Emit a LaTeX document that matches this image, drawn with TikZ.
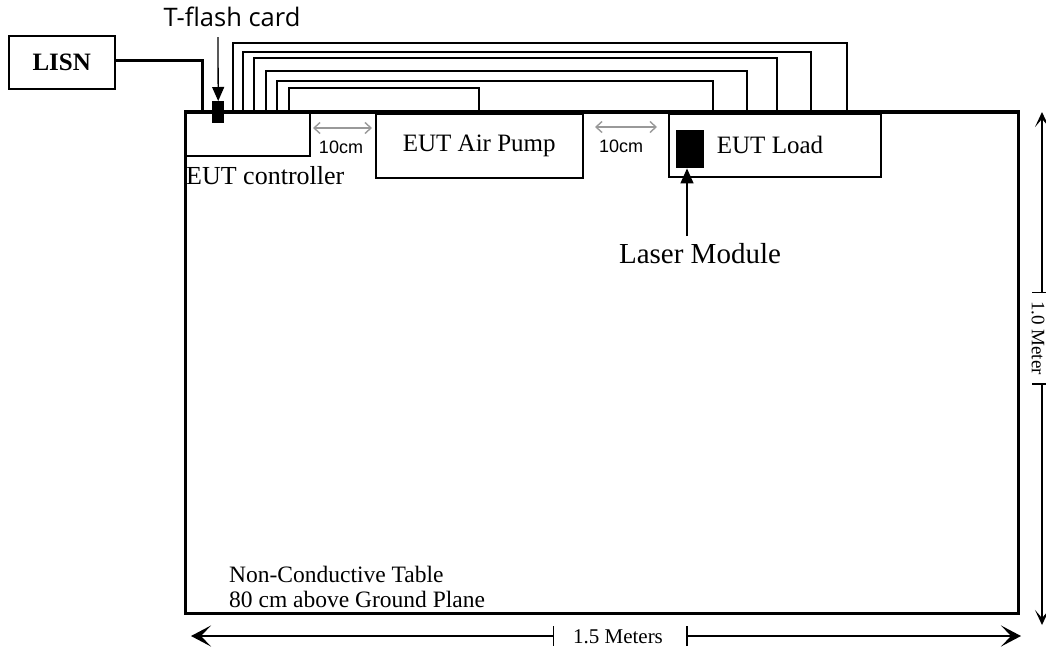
\documentclass[tikz,border=0pt]{standalone}
\usepackage{fontspec}
\setmainfont{Liberation Serif}
\newfontfamily\tffont{Open Sans}
\newfontfamily\arfont{Liberation Sans}
\usetikzlibrary{arrows.meta,calc}
\begin{document}
\begin{tikzpicture}[x=1pt,y=-1pt,
  box/.style={draw,line width=1.5pt,inner sep=0pt,anchor=north west},
  blk/.style={fill=black,draw=none,inner sep=0pt,anchor=north west},
  wire/.style={line width=1.7pt},
  thick wire/.style={line width=3pt},
  lbl/.style={inner sep=0pt,font=\fontsize{25}{30}\selectfont},
  gaplbl/.style={inner sep=0pt,font=\arfont\fontsize{18}{22}\selectfont},
  gaparrow/.style={draw=black!40,line width=1.4pt,{Straight Barb[length=6pt,width=11pt]}-{Straight Barb[length=6pt,width=11pt]}},
  pointer/.style={line width=1.3pt,-{Triangle[length=15pt,width=13pt]}},
  dimh/.style={line width=2pt},
  dimv/.style={line width=1.5pt}]
\useasboundingbox (0,0) rectangle (1046,651);
% table
\node[box,line width=3pt,minimum width=833pt,minimum height=501pt] (table) at (184,111) {};
% LISN
\node[box,minimum width=106pt,minimum height=53pt] (lisn) at (8,35) {};
\node[lbl,font=\bfseries\fontsize{25}{30}\selectfont] (lisnt) at (lisn.center) {LISN};
% EUT controller
\node[box,minimum width=125pt,minimum height=44pt] (ctrl) at (184,111) {};
\node[lbl,anchor=west,font=\fontsize{26}{30}\selectfont] (ctrlt) at (186,176) {EUT controller};
% Air pump
\node[box,minimum width=207pt,minimum height=64pt] (pump) at (375,113) {};
\node[lbl] (pumpt) at (pump.center) {EUT Air Pump};
% Load
\node[box,minimum width=212pt,minimum height=63pt] (load) at (668,113) {};
\node[lbl] (loadt) at (770,145) {EUT Load};
% laser module block
\node[blk,minimum width=28pt,minimum height=38pt] (laser) at (676,130) {};
% T-flash card block
\node[blk,minimum width=12pt,minimum height=22pt] (tflash) at (212,101) {};
% LISN wire
\draw[thick wire] (lisn.east |- 0,60) -| ($(table.north west)+(18,0)$);
% cables
\draw[wire] ($(ctrl.north west)+(49,0)$) |- (847,43) -- ($(table.north west)+(663,0)$);
\draw[wire] ($(ctrl.north west)+(59,0)$) |- (811,52) -- ($(table.north west)+(627,0)$);
\draw[wire] ($(ctrl.north west)+(70,0)$) |- (777,58) -- ($(table.north west)+(593,0)$);
\draw[wire] ($(ctrl.north west)+(82,0)$) |- (747,71) -- ($(table.north west)+(563,0)$);
\draw[wire] ($(ctrl.north west)+(93,0)$) |- (713,81) -- ($(table.north west)+(529,0)$);
\draw[wire] ($(ctrl.north west)+(105,0)$) |- (479,88) -- ($(table.north west)+(295,0)$);
% redraw table top over cable ends
\draw[line width=3pt] (table.north west) -- (table.north east);
% T-flash label
\node[inner sep=0pt,font=\tffont\fontsize{25.5}{30}\selectfont] (tft) at (232,17) {T-flash card};
\coordinate (tfs) at (218,37);
\draw[pointer,-{Triangle[length=14pt,width=12pt]}] (tfs) -- (tflash.north);
% Laser label
\node[lbl,font=\fontsize{29}{34}\selectfont] (lmt) at (700,254) {Laser Module};
\coordinate (ls) at (687,236);
\draw[pointer] (ls) -- (ls |- laser.south);
% 10cm gaps
\coordinate (g1a) at (313,128);
\coordinate (g1b) at (372,128);
\draw[gaparrow] (g1a) -- (g1b);
\node[gaplbl] (g1t) at (341,147) {10cm};
\coordinate (g2a) at (595,127);
\coordinate (g2b) at (657,127);
\draw[gaparrow] (g2a) -- (g2b);
\node[gaplbl] (g2t) at (621,146) {10cm};
% bottom dimension
\node[inner sep=0pt,font=\fontsize{21}{24}\selectfont] (wl) at (618,637) {1.5 Meters};
\coordinate (wa) at (191,636);
\coordinate (wb) at (1021,636);
\coordinate (wta) at (554,636);
\coordinate (wtb) at (686,636);
\draw[dimh,{Bar[width=20pt,line width=1.5pt]}-{Stealth[length=20pt,width=21pt,inset=10pt]}] (wta) -- (wa);
\draw[dimh,{Bar[width=20pt,line width=1.5pt]}-{Stealth[length=20pt,width=21pt,inset=10pt]}] (wtb) -- (wb);
% right dimension
\node[inner sep=0pt,rotate=-90,font=\fontsize{19}{22}\selectfont] (hl) at (1038,338) {1.0 Meter};
\coordinate (ha) at (1042,112);
\coordinate (hb) at (1042,625);
\coordinate (hta) at (1042,293);
\coordinate (htb) at (1042,383);
\draw[dimv,{Bar[width=20pt,line width=1.5pt]}-{Stealth[length=15pt,width=14pt,inset=8pt]}] (hta) -- (ha);
\draw[dimv,{Bar[width=20pt,line width=1.5pt]}-{Stealth[length=15pt,width=14pt,inset=8pt]}] (htb) -- (hb);
% table text
\node[lbl,anchor=north west,align=left,font=\fontsize{23.5}{25}\selectfont] (tt) at (229,566) {Non-Conductive Table\\80 cm above Ground Plane};
\end{tikzpicture}
\end{document}
